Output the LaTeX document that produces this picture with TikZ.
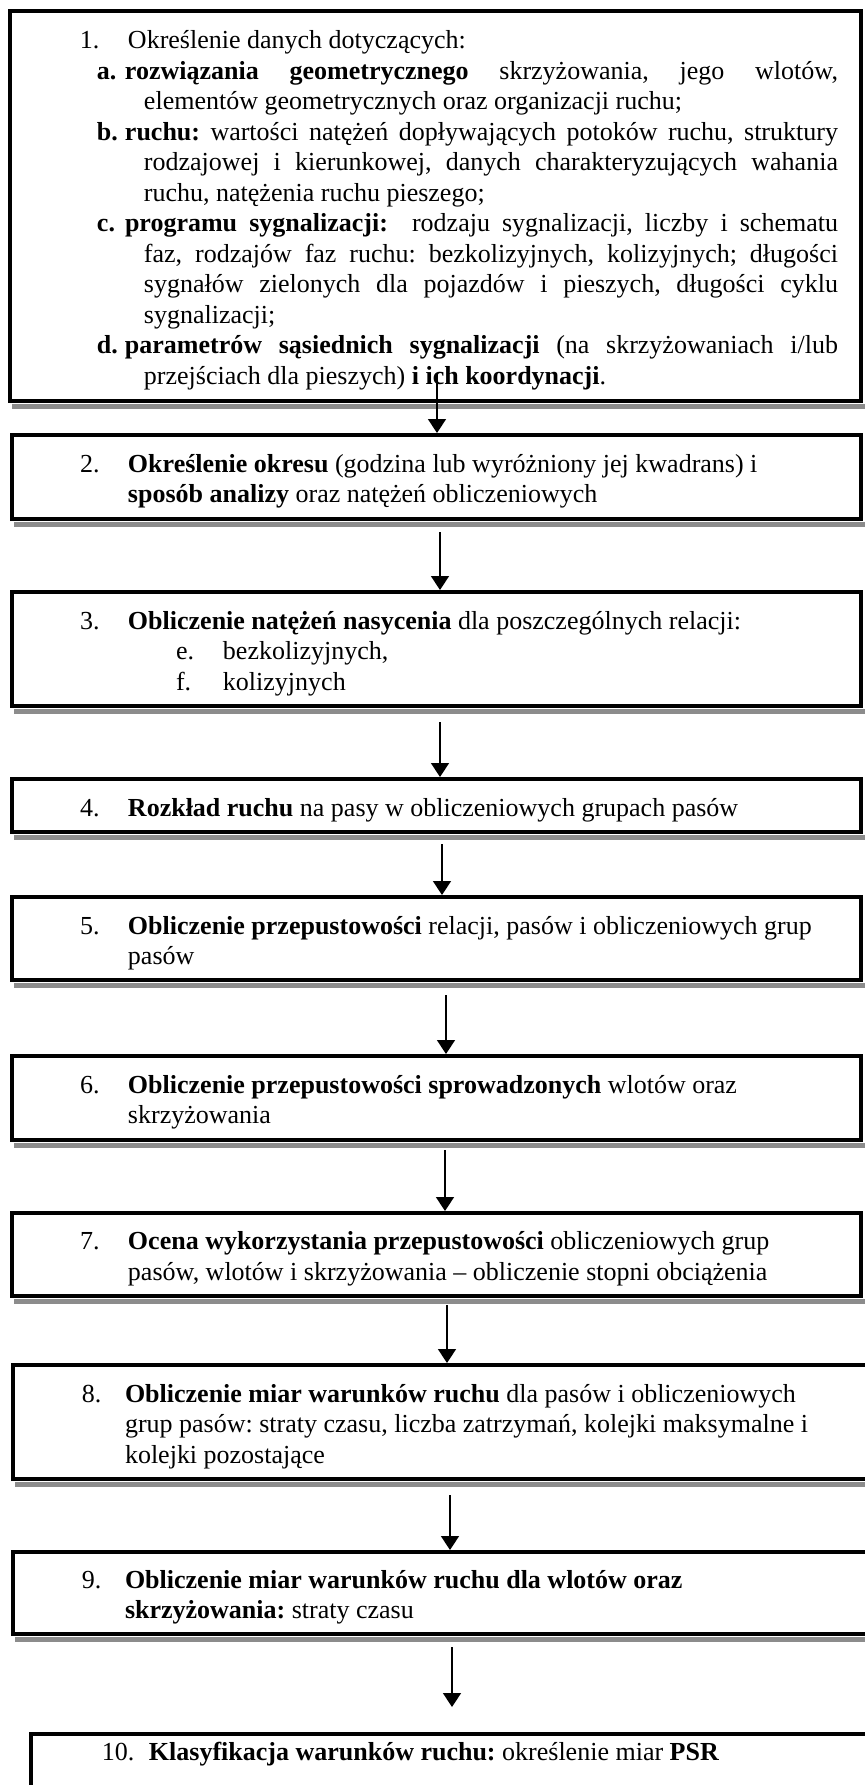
\documentclass[tikz,border=0pt]{standalone}
\usepackage{fontspec}
\setmainfont{Liberation Serif}
\usepackage{tikz}
\usetikzlibrary{arrows.meta,positioning,calc}
\tikzset{>=latex}
\tikzset{
  stepbox/.style={draw, rectangle, line width=2pt, inner sep=0pt, anchor=north west,
    font=\fontsize{13pt}{15.25pt}\selectfont\frenchspacing},
  shade/.style={fill=black!45},
  flow/.style={-{Triangle[width=9pt,length=7pt]}, line width=0.75pt}
}

\begin{document}
\begin{tikzpicture}[x=0.5pt,y=-0.5pt]
    \useasboundingbox (0,0) rectangle (864,1785);
    \node [stepbox, minimum height=195.25pt] (b1) at (7.5,8.5) {\parbox{425.75pt}{\vspace*{4.5pt}%
      \leftskip=35.25pt \makebox[24pt][l]{1.}Określenie danych dotyczących:\par
      \leftskip=43.75pt \rightskip=11.5pt \parfillskip=0pt plus 1fil
      \tolerance=9999 \hyphenpenalty=10000
      \makebox[14pt][l]{\textbf{a.}}\hangindent=23.5pt\textbf{rozwiązania geometrycznego} skrzyżowania, jego wlotów,\linebreak
      elementów geometrycznych oraz organizacji ruchu;\par
      \makebox[14pt][l]{\textbf{b.}}\hangindent=23.5pt\textbf{ruchu:} wartości natężeń dopływających potoków ruchu, struktury\linebreak
      rodzajowej i kierunkowej, danych charakteryzujących wahania\linebreak
      ruchu, natężenia ruchu pieszego;\par
      \makebox[14pt][l]{\textbf{c.}}\hangindent=23.5pt\textbf{programu sygnalizacji:}\ \ rodzaju sygnalizacji, liczby i schematu\linebreak
      faz, rodzajów faz ruchu: bezkolizyjnych, kolizyjnych; długości\linebreak
      sygnałów zielonych dla pojazdów i pieszych, długości cyklu\linebreak
      sygnalizacji;\par
      \makebox[14pt][l]{\textbf{d.}}\hangindent=23.5pt\textbf{parametrów sąsiednich sygnalizacji} (na skrzyżowaniach i/lub\linebreak
      przejściach dla pieszych) \textbf{i ich koordynacji}.}};
    \node [stepbox, minimum height=41.75pt] (b2) at (10,433) {\parbox{424.5pt}{\vspace*{4.5pt}%
      \leftskip=34pt \makebox[24pt][l]{2.}\textbf{Określenie okresu} (godzina lub wyróżniony jej kwadrans) i\\
      \hspace*{24pt}\textbf{sposób analizy} oraz natężeń obliczeniowych}};
    \node [stepbox, minimum height=57pt] (b3) at (10,590) {\parbox{424.5pt}{\vspace*{4.5pt}%
      \leftskip=34pt \makebox[24pt][l]{3.}\textbf{Obliczenie natężeń nasycenia} dla poszczególnych relacji:\\
      \hspace*{48pt}\makebox[23.5pt][l]{e.}bezkolizyjnych,\\
      \hspace*{48pt}\makebox[23.5pt][l]{f.}kolizyjnych}};
    \node [stepbox, minimum height=26.5pt] (b4) at (10,777) {\parbox{424.5pt}{\vspace*{4.5pt}%
      \leftskip=34pt \makebox[24pt][l]{4.}\textbf{Rozkład ruchu} na pasy w obliczeniowych grupach pasów}};
    \node [stepbox, minimum height=41.5pt] (b5) at (10,895) {\parbox{424.5pt}{\vspace*{4.5pt}%
      \leftskip=34pt \makebox[24pt][l]{5.}\textbf{Obliczenie przepustowości} relacji, pasów i obliczeniowych grup\\
      \hspace*{24pt}pasów}};
    \node [stepbox, minimum height=42pt] (b6) at (10,1054) {\parbox{424.5pt}{\vspace*{4.5pt}%
      \leftskip=34pt \makebox[24pt][l]{6.}\textbf{Obliczenie przepustowości sprowadzonych} wlotów oraz\\
      \hspace*{24pt}skrzyżowania}};
    \node [stepbox, minimum height=41.5pt] (b7) at (10,1211) {\parbox{424.5pt}{\vspace*{4.5pt}%
      \leftskip=34pt \makebox[24pt][l]{7.}\textbf{Ocena wykorzystania przepustowości} obliczeniowych grup\\
      \hspace*{24pt}pasów, wlotów i skrzyżowania – obliczenie stopni obciążenia}};
    \node [stepbox, minimum height=57pt] (b8) at (11,1363) {\parbox{427pt}{\vspace*{4.5pt}%
      \leftskip=34.5pt \makebox[21.5pt][l]{8.}\textbf{Obliczenie miar warunków ruchu} dla pasów i obliczeniowych\\
      \hspace*{21.5pt}grup pasów: straty czasu, liczba zatrzymań, kolejki maksymalne i\\
      \hspace*{21.5pt}kolejki pozostające}};
    \node [stepbox, minimum height=41pt] (b9) at (11,1550) {\parbox{427pt}{\vspace*{4.5pt}%
      \leftskip=34.5pt \makebox[21.5pt][l]{9.}\textbf{Obliczenie miar warunków ruchu dla wlotów oraz}\\
      \hspace*{21.5pt}\textbf{skrzyżowania:} straty czasu}};
    \node [stepbox, text height=13.25pt, text depth=30pt] (b10) at (28.5,1731.5) {\parbox[b]{419.75pt}{%
      \leftskip=35.75pt \makebox[23.5pt][l]{10.}\textbf{Klasyfikacja warunków ruchu:} określenie miar \textbf{PSR}}};
    % shadows under the boxes
    \foreach \b in {b1,b2,b3,b4,b5,b6,b7,b8,b9}
      \fill [shade] ($(\b.south west)+(4,1)$) rectangle ($(\b.south east)+(6,6)$);
    % arrows
    \draw [flow] (437,373) coordinate (s1) -- (s1 |- b2.north);
    \draw [flow] (440,532) coordinate (s2) -- (s2 |- b3.north);
    \draw [flow] (440,722) coordinate (s3) -- (s3 |- b4.north);
    \draw [flow] (442,844) coordinate (s4) -- (s4 |- b5.north);
    \draw [flow] (446,995) coordinate (s5) -- (s5 |- b6.north);
    \draw [flow] (445,1150) coordinate (s6) -- (s6 |- b7.north);
    \draw [flow] (447,1305) coordinate (s7) -- (s7 |- b8.north);
    \draw [flow] (450,1495) coordinate (s8) -- (s8 |- b9.north);
    \draw [flow] (452,1647) coordinate (s9) -- ++(0,60) coordinate (e9);
  \end{tikzpicture}
\end{document}
